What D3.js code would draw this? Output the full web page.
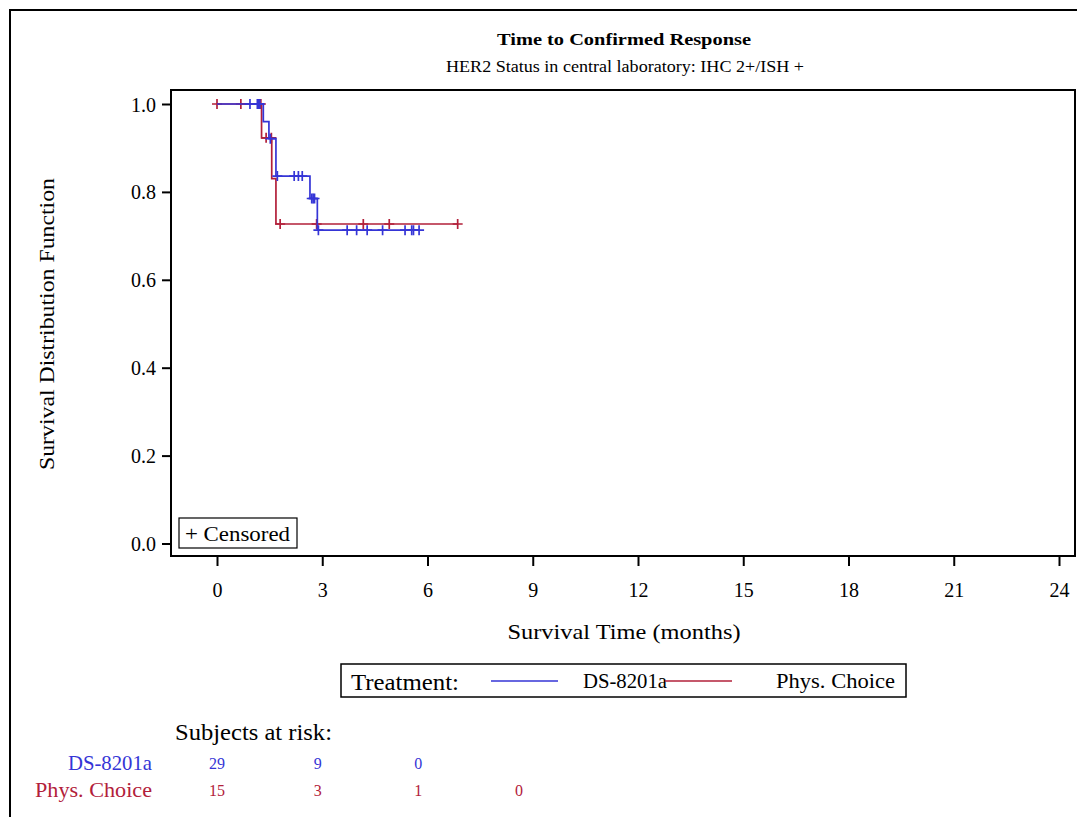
<!DOCTYPE html>
<html>
<head>
<meta charset="utf-8">
<script src="https://cdn.jsdelivr.net/npm/d3@7"></script>
<style>
    body { margin: 0; background: #fff; }
    text { font-family: "Liberation Serif", "Times New Roman", serif; fill: #000; }
</style>
</head>
<body>
<svg id="chart" width="1077" height="817"></svg>
<script>
    // step curves: time (months) where the step starts, survival after it
    let dsTimes = [0, 1.32, 1.48, 1.68, 2.65, 2.86, 5.76]
    let dsSurv = [1.0, 0.96, 0.921, 0.836, 0.785, 0.713, 0.713]
    let dsCensor = [0.94, 1.15, 1.19, 1.22, 1.52, 1.72, 2.2, 2.32, 2.43, 2.7, 2.74, 2.78, 2.89, 3.71, 3.98, 4.28, 4.72, 5.36, 5.55, 5.6, 5.76]

    let pcTimes = [0, 1.27, 1.56, 1.68, 6.86]
    let pcSurv = [1.0, 0.923, 0.83, 0.727, 0.727]
    let pcCensor = [0, 0.68, 1.25, 1.4, 1.55, 1.8, 2.84, 4.17, 4.91, 6.86]

    let xTicks = [0, 3, 6, 9, 12, 15, 18, 21, 24]
    let yTicks = [0, 0.2, 0.4, 0.6, 0.8, 1.0]

    let riskTimes = [0, 3, 6, 9]
    let dsRisk = [29, 9, 0]
    let pcRisk = [15, 3, 1, 0]

    let blue = "#3535d6"
    let red = "#b2203a"

    let svg = d3.select("#chart")

    // outer frame (only top and left edges show in the picture)
    svg.append("path").attr("d", "M10,817 V10 H1077")
        .attr("fill", "none").attr("stroke", "#000").attr("stroke-width", 2)

    let x = d3.scaleLinear().domain([0, 24]).range([217, 1059])
    let y = d3.scaleLinear().domain([0, 1]).range([543.5, 104])

    // plot box
    svg.append("rect").attr("x", 171).attr("y", 90).attr("width", 904).attr("height", 466)
        .attr("fill", "none").attr("stroke", "#000").attr("stroke-width", 2)

    // axes
    let xAxis = svg.append("g").attr("transform", "translate(0,556)")
        .call(d3.axisBottom(x).tickValues(xTicks).tickSize(10).tickPadding(17).tickFormat(d3.format("d")))
    let yAxis = svg.append("g").attr("transform", "translate(171,0)")
        .call(d3.axisLeft(y).tickValues(yTicks).tickSize(9).tickPadding(6).tickFormat(d3.format(".1f")))
    for (let ax of [xAxis, yAxis]) {
        ax.select(".domain").remove()
        ax.selectAll("line").attr("stroke", "#000").attr("stroke-width", 2)
        ax.selectAll("text").attr("font-size", 20).attr("fill", "#000")
    }
    yAxis.selectAll("text").attr("dy", "0.35em")

    // titles
    svg.append("text").attr("x", 624).attr("y", 45).attr("text-anchor", "middle")
        .attr("font-size", 16).attr("font-weight", "bold")
        .attr("textLength", 254).attr("lengthAdjust", "spacingAndGlyphs")
        .text("Time to Confirmed Response")
    svg.append("text").attr("x", 625).attr("y", 72).attr("text-anchor", "middle")
        .attr("font-size", 16).attr("textLength", 358).attr("lengthAdjust", "spacingAndGlyphs")
        .text("HER2 Status in central laboratory: IHC 2+/ISH +")
    svg.append("text").attr("x", 624).attr("y", 639).attr("text-anchor", "middle")
        .attr("font-size", 22).attr("textLength", 233).attr("lengthAdjust", "spacingAndGlyphs")
        .text("Survival Time (months)")
    svg.append("text").attr("transform", "translate(54,324) rotate(-90)").attr("text-anchor", "middle")
        .attr("font-size", 22).attr("textLength", 292).attr("lengthAdjust", "spacingAndGlyphs")
        .text("Survival Distribution Function")

    // step lines + censor marks
    function survAt(times, surv, t) {
        let i = d3.bisectRight(times, t) - 1
        return surv[Math.max(i, 0)]
    }
    let step = d3.line().x(d => x(d[0])).y(d => y(d[1])).curve(d3.curveStepAfter)

    function drawSeries(times, surv, censor, color) {
        let pts = times.map((t, i) => [t, surv[i]])
        svg.append("path").datum(pts).attr("d", step)
            .attr("fill", "none").attr("stroke", color).attr("stroke-width", 1.7)
        svg.append("g").selectAll("path").data(censor).join("path")
            .attr("d", t => {
                let cx = x(t), cy = y(survAt(times, surv, t))
                return `M${cx - 5},${cy}H${cx + 5}M${cx},${cy - 5}V${cy + 5}`
            })
            .attr("stroke", color).attr("stroke-width", 1.7).attr("fill", "none")
    }
    drawSeries(pcTimes, pcSurv, pcCensor, red)
    drawSeries(dsTimes, dsSurv, dsCensor, blue)

    // censored inset legend
    svg.append("rect").attr("x", 179).attr("y", 518).attr("width", 118).attr("height", 30)
        .attr("fill", "#fff").attr("stroke", "#000").attr("stroke-width", 1.2)
    svg.append("text").attr("x", 185).attr("y", 541).attr("font-size", 21)
        .attr("textLength", 105).attr("lengthAdjust", "spacingAndGlyphs").text("+ Censored")

    // treatment legend
    svg.append("rect").attr("x", 341).attr("y", 664).attr("width", 565).attr("height", 33)
        .attr("fill", "#fff").attr("stroke", "#000").attr("stroke-width", 1.5)
    svg.append("text").attr("x", 351).attr("y", 690).attr("font-size", 23)
        .attr("textLength", 108).attr("lengthAdjust", "spacingAndGlyphs").text("Treatment:")
    let legendItems = [
        { name: "DS-8201a", color: blue, x0: 491, tx: 583, w: 84 },
        { name: "Phys. Choice", color: red, x0: 665, tx: 776, w: 119 }
    ]
    for (let it of legendItems) {
        svg.append("line").attr("x1", it.x0).attr("x2", it.x0 + 67).attr("y1", 681).attr("y2", 681)
            .attr("stroke", it.color).attr("stroke-width", 1.7)
        svg.append("text").attr("x", it.tx).attr("y", 688).attr("font-size", 21)
            .attr("textLength", it.w).attr("lengthAdjust", "spacingAndGlyphs").text(it.name)
    }

    // subjects at risk table
    svg.append("text").attr("x", 175).attr("y", 740).attr("font-size", 23)
        .attr("textLength", 157).attr("lengthAdjust", "spacingAndGlyphs").text("Subjects at risk:")
    let riskX = d3.scaleLinear().domain([0, 9]).range([217, 519])
    let rows = [
        { name: "DS-8201a", values: dsRisk, color: blue, y: 770, w: 84 },
        { name: "Phys. Choice", values: pcRisk, color: red, y: 797, w: 117 }
    ]
    for (let r of rows) {
        svg.append("text").attr("x", 152).attr("y", r.y).attr("text-anchor", "end")
            .attr("font-size", 21).attr("textLength", r.w).attr("lengthAdjust", "spacingAndGlyphs")
            .style("fill", r.color).text(r.name)
        svg.append("g").selectAll("text").data(r.values).join("text")
            .attr("x", (d, i) => riskX(riskTimes[i])).attr("y", r.y - 1)
            .attr("text-anchor", "middle").attr("font-size", 16).style("fill", r.color).text(d => d)
    }
</script>
</body>
</html>
